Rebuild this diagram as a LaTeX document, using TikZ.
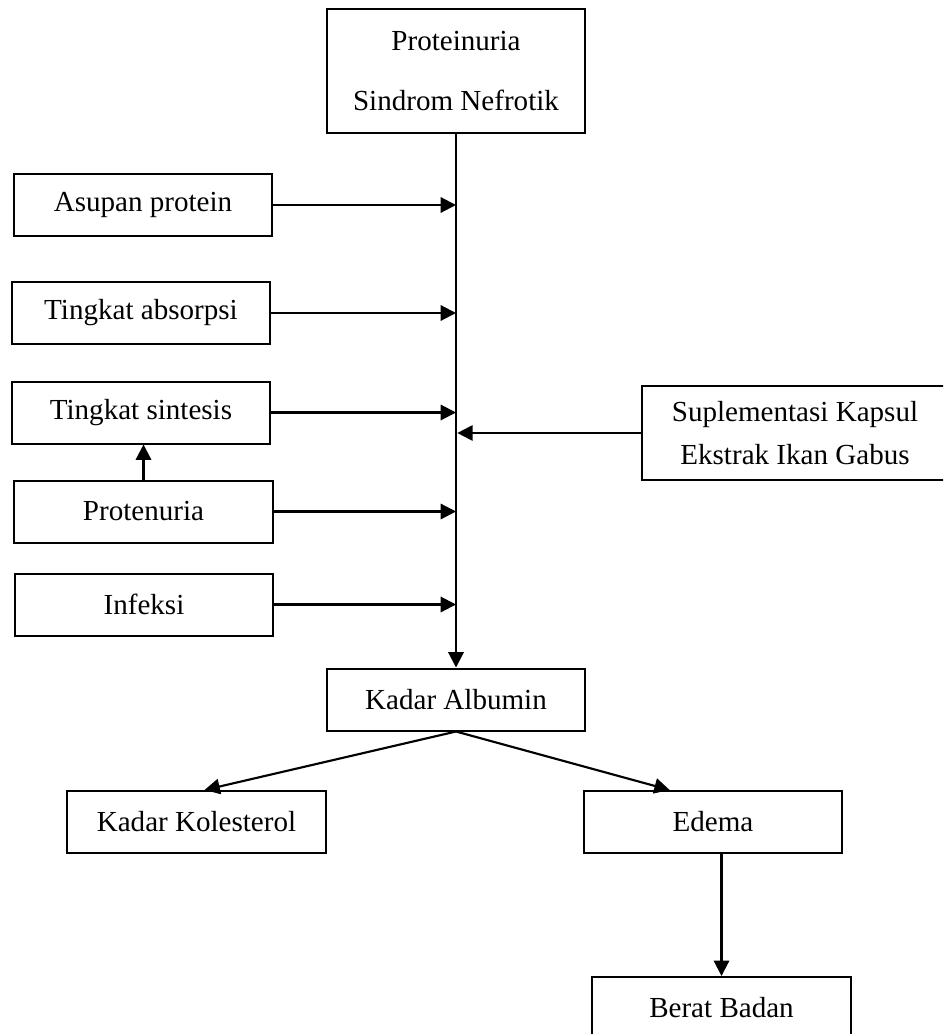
\documentclass[tikz,border=0pt]{standalone}
\usepackage{fontspec}
\setmainfont{Liberation Serif}
\usepackage{tikz}
\usetikzlibrary{positioning, arrows.meta, calc}
\definecolor{primaryColor}{RGB}{0, 0, 0}
\definecolor{boxFill}{RGB}{255, 255, 255}
\tikzset{
    factor_box/.style={
        rectangle,
        draw=primaryColor,
        fill=boxFill,
        line width=1.5pt,
        text=primaryColor,
        font=\fontsize{21.8pt}{26pt}\selectfont,
        align=center,
        inner sep=0pt,
        minimum width=194pt,
        minimum height=46.5pt
    },
    flow_edge/.style={
        -{Triangle[length=11.5pt, width=11.5pt]},
        line width=1.6pt,
        draw=primaryColor
    }
}

\begin{document}
\begin{tikzpicture}[x=0.75pt, y=-0.75pt]
        \useasboundingbox (0,0) rectangle (943,1034);
        \clip (0,0) rectangle (943,1034);

        \node[factor_box, minimum height=93pt] (nefrotik) at (456,71)
            {Proteinuria \\[19pt] Sindrom Nefrotik};
        \node[factor_box] (asupan) at (143,205) {Asupan protein};
        \node[factor_box] (absorpsi) at (141,313) {Tingkat absorpsi};
        \node[factor_box] (sintesis) at (141,412.5) {Tingkat sintesis};
        \node[factor_box] (protenuria) at (143.5,511.5) {Protenuria};
        \node[factor_box] (infeksi) at (144,604.5) {Infeksi};
        \node[factor_box, minimum width=229.5pt, minimum height=70.5pt] (suplementasi) at (795,433)
            {Suplementasi Kapsul \\[6pt] Ekstrak Ikan Gabus};
        \node[factor_box] (albumin) at (456,699.5) {Kadar Albumin};
        \node[factor_box] (kolesterol) at (196.5,822) {Kadar Kolesterol};
        \node[factor_box] (edema) at (713,822) {Edema};
        \node[factor_box] (berat) at (721.5,1008) {Berat Badan};

        \draw
        (nefrotik) edge [flow_edge] (albumin)
        (asupan) edge [flow_edge] (asupan -| albumin)
        (absorpsi) edge [flow_edge] (absorpsi -| albumin)
        (sintesis) edge [flow_edge] (sintesis -| albumin)
        (protenuria) edge [flow_edge] (protenuria -| albumin)
        (infeksi) edge [flow_edge] (infeksi -| albumin)
        (suplementasi) edge [flow_edge, shorten >=1pt] (suplementasi -| albumin)
        (protenuria.north) edge [flow_edge] (protenuria.north |- sintesis.south)
        (albumin.south) edge [flow_edge] ($(kolesterol.north)+(8,0)$)
        (albumin.south) edge [flow_edge] ($(edema.north west)+(87,0)$)
        (edema.south -| berat) edge [flow_edge] (berat);
    \end{tikzpicture}
\end{document}
